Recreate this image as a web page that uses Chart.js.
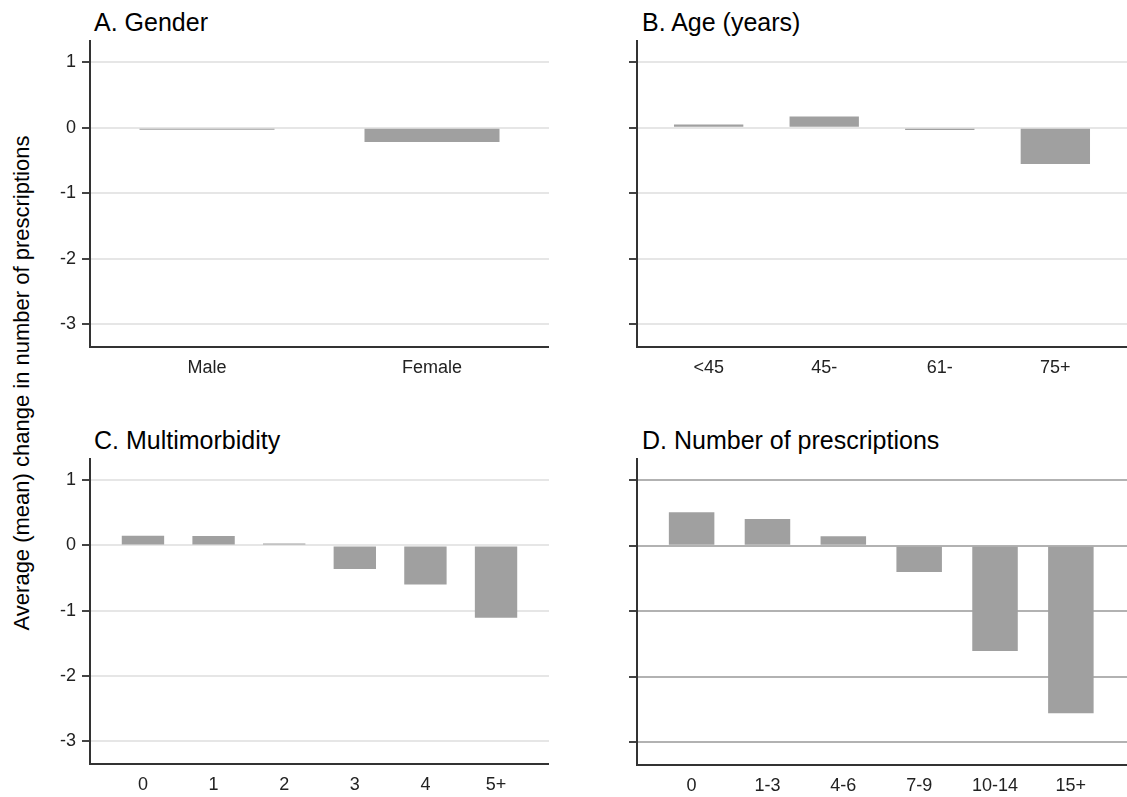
<!DOCTYPE html>
<html>
<head>
<meta charset="utf-8">
<script src="https://cdn.jsdelivr.net/npm/chart.js@4/dist/chart.umd.min.js"></script>
<style>
  html, body { margin: 0; padding: 0; background: #fff; }
  #wrap { position: relative; width: 1127px; height: 797px; background: #fff; overflow: hidden;
          font-family: "Liberation Sans", Arial, sans-serif; }
  canvas { position: absolute; }
  .ptitle { position: absolute; font-size: 25px; line-height: 24px; color: #000; white-space: nowrap; }
  #ytitle { position: absolute; left: 22px; top: 383px; width: 620px; text-align: center;
            font-size: 22px; line-height: 24px; color: #000; white-space: nowrap;
            transform: translate(-50%, -50%) rotate(-90deg); }
</style>
</head>
<body>
<div id="wrap">
  <div class="ptitle" style="left:94px; top:10px;">A. Gender</div>
  <div class="ptitle" style="left:642px; top:10px;">B. Age (years)</div>
  <div class="ptitle" style="left:94px; top:428px;">C. Multimorbidity</div>
  <div class="ptitle" style="left:642px; top:428px;">D. Number of prescriptions</div>
  <div id="ytitle">Average (mean) change in number of prescriptions</div>
  <canvas id="cA" style="left:0px; top:40px;"></canvas>
  <canvas id="cB" style="left:549px; top:40px;"></canvas>
  <canvas id="cC" style="left:0px; top:458px;"></canvas>
  <canvas id="cD" style="left:549px; top:458px;"></canvas>
</div>
<script>
// ---- Data ----
const genderLabels = ["Male", "Female"];
const genderValues = [-0.03, -0.22];

const ageLabels = ["<45", "45-", "61-", "75+"];
const ageValues = [0.05, 0.17, -0.035, -0.555];

const multiLabels = ["0", "1", "2", "3", "4", "5+"];
const multiValues = [0.15, 0.145, 0.03, -0.36, -0.60, -1.11];

const rxLabels = ["0", "1-3", "4-6", "7-9", "10-14", "15+"];
const rxValues = [0.51, 0.41, 0.145, -0.40, -1.61, -2.56];

const yTickValues = [1, 0, -1, -2, -3];
const yTickLabels = ["1", "0", "-1", "-2", "-3"];

// ---- Chart builder ----
const FONT = "'Liberation Sans', Arial, sans-serif";

function makePanel(id, labels, values, opts) {
  const cv = document.getElementById(id);
  cv.width = opts.w; cv.height = opts.h;
  cv.style.width = opts.w + "px"; cv.style.height = opts.h + "px";
  return new Chart(cv, {
    type: "bar",
    data: {
      datasets: [{
        data: values.map((v, i) => ({ x: i, y: v })),
        backgroundColor: "#a0a0a0",
        borderWidth: 0,
        barPercentage: 0.6,
        categoryPercentage: 1.0
      }]
    },
    options: {
      responsive: false,
      animation: false,
      devicePixelRatio: 1,
      layout: { padding: 0, autoPadding: false },
      plugins: { legend: { display: false }, tooltip: { enabled: false }, title: { display: false } },
      scales: {
        x: {
          type: "linear",
          offset: false,
          min: opts.xmin, max: opts.xmax,
          afterBuildTicks: s => { s.ticks = labels.map((_, i) => ({ value: i })); },
          afterFit: s => { s.height = opts.xh; s.paddingLeft = 0; s.paddingRight = 0; s.paddingTop = 0; s.paddingBottom = 0; },
          ticks: {
            autoSkip: false, maxRotation: 0,
            padding: 10,
            color: "#222",
            font: { family: FONT, size: 18 },
            callback: v => labels[v]
          },
          grid: { display: false, drawTicks: false, offset: false },
          border: { display: true, color: "#333", width: 2 }
        },
        y: {
          type: "linear",
          min: -3.35, max: 1.34,
          afterBuildTicks: s => { s.ticks = yTickValues.map(v => ({ value: v })); },
          afterFit: s => { s.width = opts.yw; s.paddingTop = 0; s.paddingBottom = 0; s.paddingLeft = 0; s.paddingRight = 0; },
          ticks: {
            padding: 6,
            color: "#222",
            font: { family: FONT, size: 18 },
            callback: (v, i) => opts.showY ? yTickLabels[i] : ""
          },
          grid: {
            color: opts.gridColor,
            lineWidth: 2,
            drawTicks: true,
            tickLength: 8,
            tickColor: "#444",
            tickWidth: 2
          },
          border: { display: true, color: "#333", width: 2 }
        }
      }
    }
  });
}

makePanel("cA", genderLabels, genderValues,
  { w: 549, h: 357, xh: 50, yw: 90, xmin: -0.52, xmax: 1.52, showY: true, gridColor: "#e6e6e6" });
makePanel("cB", ageLabels, ageValues,
  { w: 578, h: 357, xh: 50, yw: 88, xmin: -0.62, xmax: 3.62, showY: false, gridColor: "#e6e6e6" });
makePanel("cC", multiLabels, multiValues,
  { w: 549, h: 356, xh: 50, yw: 90, xmin: -0.75, xmax: 5.75, showY: true, gridColor: "#e6e6e6" });
makePanel("cD", rxLabels, rxValues,
  { w: 578, h: 357, xh: 50, yw: 88, xmin: -0.72, xmax: 5.74, showY: false, gridColor: "#b2b2b2" });
</script>
</body>
</html>
